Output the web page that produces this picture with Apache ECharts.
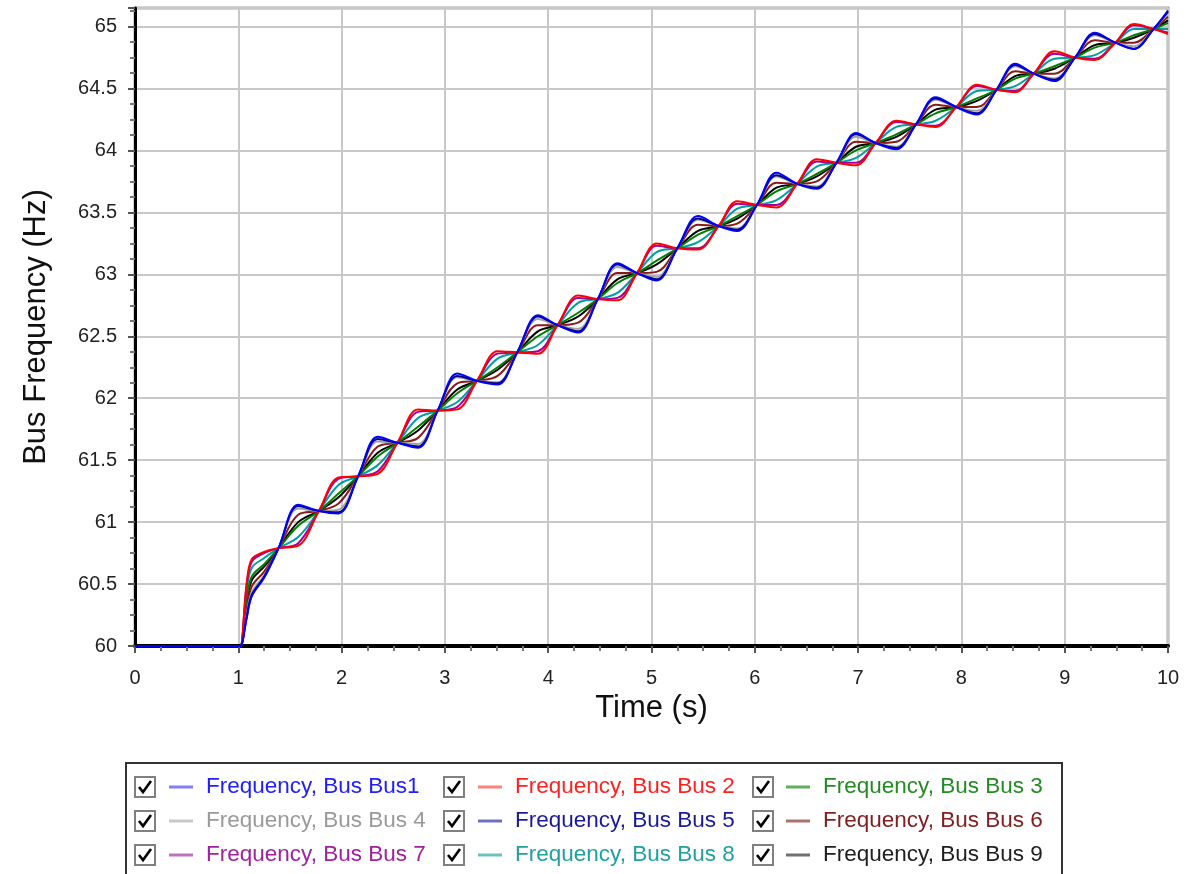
<!DOCTYPE html>
<html>
<head>
<meta charset="utf-8">
<script src="https://cdn.jsdelivr.net/npm/echarts/dist/echarts.min.js"></script>
<style>
html,body{margin:0;padding:0;background:#fff;}
#chart{width:1188px;height:874px;}
</style>
</head>
<body>
<div id="chart"></div>
<script>
// ---- data ----
const times = [0, 1.0, 1.02, 1.08, 1.13, 1.25,
  1.39, 1.58, 1.78, 1.97, 2.16, 2.35, 2.54, 2.74, 2.93, 3.12, 3.31, 3.51, 3.70, 3.90,
  4.09, 4.29, 4.48, 4.67, 4.86, 5.05, 5.25, 5.45, 5.65, 5.83, 6.02, 6.21, 6.41, 6.60,
  6.79, 6.98, 7.17, 7.37, 7.56, 7.75, 7.95, 8.15, 8.34, 8.52, 8.70, 8.90, 9.10, 9.29,
  9.49, 9.67, 9.86, 10.0];

const bus1 = [60,60,60,60.22,60.40,60.55, 60.79,61.14, 61.09,61.07, 61.37,61.69, 61.64,61.60, 61.90,62.20, 62.14,62.11, 62.37,62.67, 62.59,62.53, 62.80,63.09, 63.01,62.95, 63.21,63.47, 63.39,63.35, 63.56,63.82, 63.73,63.69, 63.90,64.14, 64.06,64.01, 64.21,64.43, 64.35,64.29, 64.49,64.70, 64.62,64.56, 64.75,64.95, 64.87,64.82, 64.98,65.13];
const bus2 = [60,60,60,60.50,60.70,60.76, 60.79,60.81, 61.09,61.36, 61.37,61.39, 61.64,61.91, 61.90,61.91, 62.14,62.38, 62.37,62.36, 62.59,62.83, 62.80,62.79, 63.01,63.25, 63.21,63.20, 63.39,63.59, 63.56,63.54, 63.73,63.93, 63.90,63.88, 64.06,64.24, 64.21,64.19, 64.35,64.53, 64.49,64.47, 64.62,64.80, 64.75,64.73, 64.87,65.02, 64.98,64.94];
const bus3 = [60,60,60,60.37,60.56,60.66, 60.79,60.97, 61.09,61.23, 61.37,61.53, 61.64,61.77, 61.90,62.04, 62.14,62.25, 62.37,62.50, 62.59,62.69, 62.80,62.93, 63.01,63.11, 63.21,63.32, 63.39,63.47, 63.56,63.67, 63.73,63.81, 63.90,64.00, 64.06,64.13, 64.21,64.30, 64.35,64.42, 64.49,64.58, 64.62,64.68, 64.75,64.83, 64.87,64.93, 64.98,65.03];
const bus4 = [60,60,60,60.25,60.43,60.57, 60.79,61.11, 61.09,61.10, 61.37,61.65, 61.64,61.63, 61.90,62.17, 62.14,62.13, 62.37,62.64, 62.59,62.56, 62.80,63.06, 63.01,62.98, 63.21,63.44, 63.39,63.37, 63.56,63.79, 63.73,63.71, 63.90,64.11, 64.06,64.03, 64.21,64.41, 64.35,64.32, 64.49,64.68, 64.62,64.58, 64.75,64.93, 64.87,64.84, 64.98,65.11];
const bus5 = [60,60,60,60.23,60.41,60.56, 60.79,61.13, 61.09,61.08, 61.37,61.67, 61.64,61.61, 61.90,62.18, 62.14,62.12, 62.37,62.66, 62.59,62.54, 62.80,63.08, 63.01,62.96, 63.21,63.45, 63.39,63.36, 63.56,63.80, 63.73,63.70, 63.90,64.13, 64.06,64.02, 64.21,64.42, 64.35,64.30, 64.49,64.69, 64.62,64.57, 64.75,64.94, 64.87,64.82, 64.98,65.12];
const bus6 = [60,60,60,60.29,60.48,60.60, 60.79,61.06, 61.09,61.15, 61.37,61.61, 61.64,61.68, 61.90,62.12, 62.14,62.18, 62.37,62.59, 62.59,62.61, 62.80,63.01, 63.01,63.02, 63.21,63.40, 63.39,63.41, 63.56,63.74, 63.73,63.75, 63.90,64.07, 64.06,64.07, 64.21,64.37, 64.35,64.35, 64.49,64.64, 64.62,64.62, 64.75,64.89, 64.87,64.87, 64.98,65.08];
const bus7 = [60,60,60,60.48,60.68,60.75, 60.79,60.83, 61.09,61.35, 61.37,61.41, 61.64,61.89, 61.90,61.93, 62.14,62.36, 62.37,62.38, 62.59,62.81, 62.80,62.81, 63.01,63.23, 63.21,63.21, 63.39,63.57, 63.56,63.56, 63.73,63.91, 63.90,63.90, 64.06,64.23, 64.21,64.20, 64.35,64.52, 64.49,64.48, 64.62,64.78, 64.75,64.74, 64.87,65.01, 64.98,64.95];
const bus8 = [60,60,60,60.44,60.63,60.71, 60.79,60.88, 61.09,61.30, 61.37,61.46, 61.64,61.84, 61.90,61.97, 62.14,62.32, 62.37,62.43, 62.59,62.77, 62.80,62.85, 63.01,63.18, 63.21,63.26, 63.39,63.53, 63.56,63.60, 63.73,63.87, 63.90,63.94, 64.06,64.19, 64.21,64.24, 64.35,64.48, 64.49,64.52, 64.62,64.74, 64.75,64.77, 64.87,64.98, 64.98,64.98];
const bus9 = [60,60,60,60.34,60.53,60.64, 60.79,61.00, 61.09,61.20, 61.37,61.56, 61.64,61.74, 61.90,62.07, 62.14,62.23, 62.37,62.54, 62.59,62.66, 62.80,62.96, 63.01,63.08, 63.21,63.35, 63.39,63.45, 63.56,63.70, 63.73,63.79, 63.90,64.03, 64.06,64.11, 64.21,64.33, 64.35,64.40, 64.49,64.60, 64.62,64.66, 64.75,64.85, 64.87,64.91, 64.98,65.05];

const seriesNames = ['Frequency, Bus Bus1', 'Frequency, Bus Bus 2', 'Frequency, Bus Bus 3',
  'Frequency, Bus Bus 4', 'Frequency, Bus Bus 5', 'Frequency, Bus Bus 6',
  'Frequency, Bus Bus 7', 'Frequency, Bus Bus 8', 'Frequency, Bus Bus 9'];
const seriesValues = [bus1, bus2, bus3, bus4, bus5, bus6, bus7, bus8, bus9];

const xTickLabels = [0, 1, 2, 3, 4, 5, 6, 7, 8, 9, 10];
const yTickLabels = [60, 60.5, 61, 61.5, 62, 62.5, 63, 63.5, 64, 64.5, 65];

// ---- styles ----
const lineColors = ['#0000ff', '#ff0000', '#008000', '#a0a0a0', '#000080', '#8b1a1a', '#a000a0', '#00a0a0', '#000000'];
const iconColors = ['#7f7fff', '#ff8080', '#60b060', '#c8c8c8', '#7070c0', '#b07070', '#c070c0', '#70c0c0', '#707070'];
const textColors = ['#2020ff', '#ff2020', '#228b22', '#9a9a9a', '#1a1a99', '#802020', '#a020a0', '#20a0a0', '#202020'];
const drawOrder = [8, 7, 2, 5, 3, 6, 4, 1, 0];

const FONT = "'Liberation Sans', Arial, sans-serif";
const checkCols = [135, 444, 753];
const iconCols = [169, 478, 786];
const rowCenters = [787, 821, 855];

const chart = echarts.init(document.getElementById('chart'), null, {renderer: 'canvas'});

const series = drawOrder.map(function (i) {
  return {
    name: seriesNames[i],
    type: 'line',
    data: times.map(function (t, k) { return [t, seriesValues[i][k]]; }),
    showSymbol: false,
    smooth: 0.35,
    color: lineColors[i],
    lineStyle: {color: lineColors[i], width: 2},
    emphasis: {disabled: true},
    animation: false
  };
});

const legends = seriesNames.map(function (n, i) {
  return {
    data: [{name: n, itemStyle: {color: iconColors[i]}}],
    left: iconCols[i % 3],
    top: rowCenters[Math.floor(i / 3)] - 12,
    padding: 0,
    itemWidth: 24,
    itemHeight: 3,
    icon: 'rect',
    selectedMode: false,
    textStyle: {color: textColors[i], fontSize: 22.5, fontFamily: FONT, lineHeight: 24, padding: [0, 0, 0, 8]}
  };
});

const graphics = [{
  type: 'rect', z: 1,
  shape: {x: 126, y: 763, width: 936, height: 140},
  style: {fill: '#fff', stroke: '#333', lineWidth: 2}
}];
seriesNames.forEach(function (n, i) {
  const x = checkCols[i % 3];
  const y = rowCenters[Math.floor(i / 3)] - 10;
  graphics.push({
    type: 'rect', z: 2,
    shape: {x: x, y: y, width: 20, height: 20},
    style: {fill: '#fff', stroke: '#808080', lineWidth: 2}
  });
  graphics.push({
    type: 'polyline', z: 3,
    shape: {points: [[x + 4, y + 10], [x + 8, y + 15], [x + 16, y + 4]]},
    style: {fill: null, stroke: '#000', lineWidth: 2.6}
  });
});

chart.setOption({
  animation: false,
  backgroundColor: '#fff',
  grid: {left: 135, right: 20, top: 8, bottom: 228, show: true, borderColor: '#a8a8a8', borderWidth: 3, backgroundColor: '#fff'},
  xAxis: {
    type: 'value', min: 0, max: 10, interval: 1,
    name: 'Time (s)', nameLocation: 'middle', nameGap: 44,
    nameTextStyle: {fontSize: 31, fontFamily: FONT, color: '#111'},
    axisLine: {show: true, onZero: false, lineStyle: {color: '#000', width: 4}},
    axisTick: {show: true, length: 7, lineStyle: {color: '#555', width: 2}},
    minorTick: {show: true, splitNumber: 4, length: 5, lineStyle: {color: '#777', width: 2}},
    axisLabel: {margin: 22, fontSize: 20, fontFamily: FONT, color: '#222',
      formatter: function (v) { return xTickLabels.indexOf(v) >= 0 ? String(v) : ''; }},
    splitLine: {show: true, lineStyle: {color: '#c8c8c8', width: 2}}
  },
  yAxis: {
    type: 'value', min: 60, max: 65.15, interval: 0.5,
    name: 'Bus Frequency (Hz)', nameLocation: 'middle', nameGap: 83,
    nameTextStyle: {fontSize: 31, fontFamily: FONT, color: '#111'},
    axisLine: {show: true, onZero: false, lineStyle: {color: '#000', width: 3}},
    axisTick: {show: true, length: 7, lineStyle: {color: '#555', width: 2}},
    minorTick: {show: true, splitNumber: 4, length: 5, lineStyle: {color: '#777', width: 2}},
    axisLabel: {margin: 18, fontSize: 20, fontFamily: FONT, color: '#222', showMaxLabel: false,
      formatter: function (v) { return yTickLabels.indexOf(v) >= 0 ? String(v) : ''; }},
    splitLine: {show: true, lineStyle: {color: '#c8c8c8', width: 2}}
  },
  legend: legends,
  graphic: graphics,
  series: series
});
</script>
</body>
</html>
